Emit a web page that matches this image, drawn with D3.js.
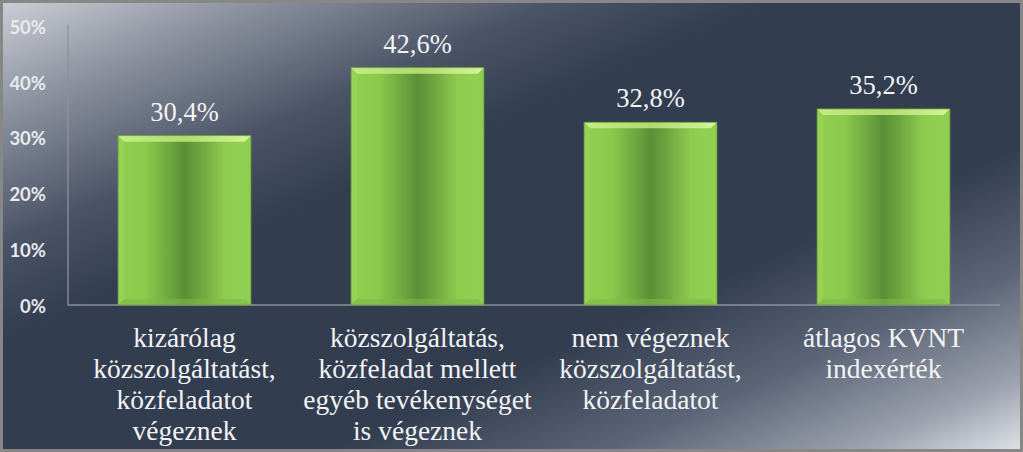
<!DOCTYPE html>
<html><head><meta charset="utf-8">
<script src="https://cdn.jsdelivr.net/npm/d3@7"></script>
<style>html,body{margin:0;padding:0;background:#fff;}svg{display:block;}</style>
</head><body>
<script>
const categories = [
  ["kizárólag","közszolgáltatást,","közfeladatot","végeznek"],
  ["közszolgáltatás,","közfeladat mellett","egyéb tevékenységet","is végeznek"],
  ["nem végeznek","közszolgáltatást,","közfeladatot"],
  ["átlagos KVNT","indexérték"]
];
const values = [30.4, 42.6, 32.8, 35.2];
const valueLabels = ["30,4%","42,6%","32,8%","35,2%"];
const yTicks = [0,10,20,30,40,50];
const yTickLabels = ["0%","10%","20%","30%","40%","50%"];

const W = 1023, H = 452;
const svg = d3.select("body").append("svg").attr("width", W).attr("height", H);
const defs = svg.append("defs");

const bg = defs.append("linearGradient").attr("id","bg")
  .attr("x1",0).attr("y1",0).attr("x2",1).attr("y2",1);
[[0,"#c9cdd5"],[0.12,"#8d939f"],[0.27,"#4b5467"],[0.38,"#333d50"],[0.66,"#333d50"],[0.8,"#5d6678"],[0.92,"#9ba1ad"],[1,"#dde0e6"]]
  .forEach(([o,c])=>bg.append("stop").attr("offset",o).attr("stop-color",c));

const bar = defs.append("linearGradient").attr("id","bar").attr("x1",0).attr("x2",1).attr("y1",0).attr("y2",0);
[[0,"#8fce4f"],[0.2,"#8cca4c"],[0.38,"#6fa840"],[0.5,"#5b8f38"],[0.62,"#6ea43f"],[0.8,"#8ecb4f"],[1,"#93d152"]]
  .forEach(([o,c])=>bar.append("stop").attr("offset",o).attr("stop-color",c));
const bev = defs.append("linearGradient").attr("id","bev").attr("x1",0).attr("x2",1).attr("y1",0).attr("y2",0);
[[0,"#c4ec86"],[0.5,"#b0dc70"],[1,"#d4f59a"]]
  .forEach(([o,c])=>bev.append("stop").attr("offset",o).attr("stop-color",c));

svg.append("rect").attr("x",0).attr("y",0).attr("width",W).attr("height",H).attr("fill","#878787");
svg.append("rect").attr("x",3).attr("y",3).attr("width",W-6).attr("height",H-6).attr("fill","url(#bg)");

const margin = {left:68, right:1000, top:26.5, bottom:305};
const x = d3.scaleBand().domain(d3.range(values.length)).range([margin.left, margin.right]).paddingInner(0.43).paddingOuter(0.215);
const y = d3.scaleLinear().domain([0,50]).range([margin.bottom, margin.top]);

// axes lines
svg.append("line").attr("x1",margin.left).attr("x2",margin.left).attr("y1",y(50)-2).attr("y2",y(0))
  .attr("stroke","#8d929c").attr("stroke-width",1.3);
svg.append("line").attr("x1",margin.left).attr("x2",margin.right).attr("y1",y(0)).attr("y2",y(0))
  .attr("stroke","#8d929c").attr("stroke-width",1.3);

// y tick labels
svg.append("g").selectAll("text").data(yTicks).join("text")
  .attr("x",46).attr("y",d=>y(d)+7.5).attr("text-anchor","end")
  .attr("font-family","Lato, 'Open Sans', sans-serif").attr("font-weight","bold").attr("font-size",18.5)
  .attr("fill","#e8eaee").text((d,i)=>yTickLabels[i]);

// bars
const g = svg.append("g");
values.forEach((v,i)=>{
  const x0 = x(i), bw = x.bandwidth(), y0 = y(v), h = y(0)-y(v);
  g.append("rect").attr("x",x0).attr("y",y0).attr("width",bw).attr("height",h).attr("fill","url(#bar)");
  const b = 6;
  g.append("polygon").attr("points",`${x0},${y0} ${x0+bw},${y0} ${x0+bw-b},${y0+b} ${x0+b},${y0+b}`).attr("fill","url(#bev)");
  g.append("polygon").attr("points",`${x0},${y0} ${x0+b},${y0+b} ${x0+b},${y0+h-b} ${x0},${y0+h}`).attr("fill","#9ad65a").attr("opacity",0.6);
  g.append("polygon").attr("points",`${x0+bw},${y0} ${x0+bw-b},${y0+b} ${x0+bw-b},${y0+h-b} ${x0+bw},${y0+h}`).attr("fill","#8ccb4e").attr("opacity",0.5);
  g.append("polygon").attr("points",`${x0},${y0+h} ${x0+b},${y0+h-b} ${x0+bw-b},${y0+h-b} ${x0+bw},${y0+h}`).attr("fill","#7fb848").attr("opacity",0.6);
  g.append("rect").attr("x",x0).attr("y",y0).attr("width",bw).attr("height",h).attr("fill","none").attr("stroke","#6f9e3a").attr("stroke-width",0.8);
  svg.append("text").attr("x",x0+bw/2).attr("y",y0-15).attr("text-anchor","middle")
    .attr("font-family","'Liberation Serif', 'Times New Roman', serif").attr("font-size",26.5)
    .attr("fill","#f2f3f5").text(valueLabels[i]);
});

// category labels
categories.forEach((lines,i)=>{
  const t = svg.append("text").attr("text-anchor","middle")
    .attr("font-family","'Liberation Serif', 'Times New Roman', serif").attr("font-size",27.5).attr("fill","#f2f3f5");
  lines.forEach((ln,j)=>{
    t.append("tspan").attr("x",x(i)+x.bandwidth()/2).attr("y",347+j*31).text(ln);
  });
});
</script>
</body></html>
